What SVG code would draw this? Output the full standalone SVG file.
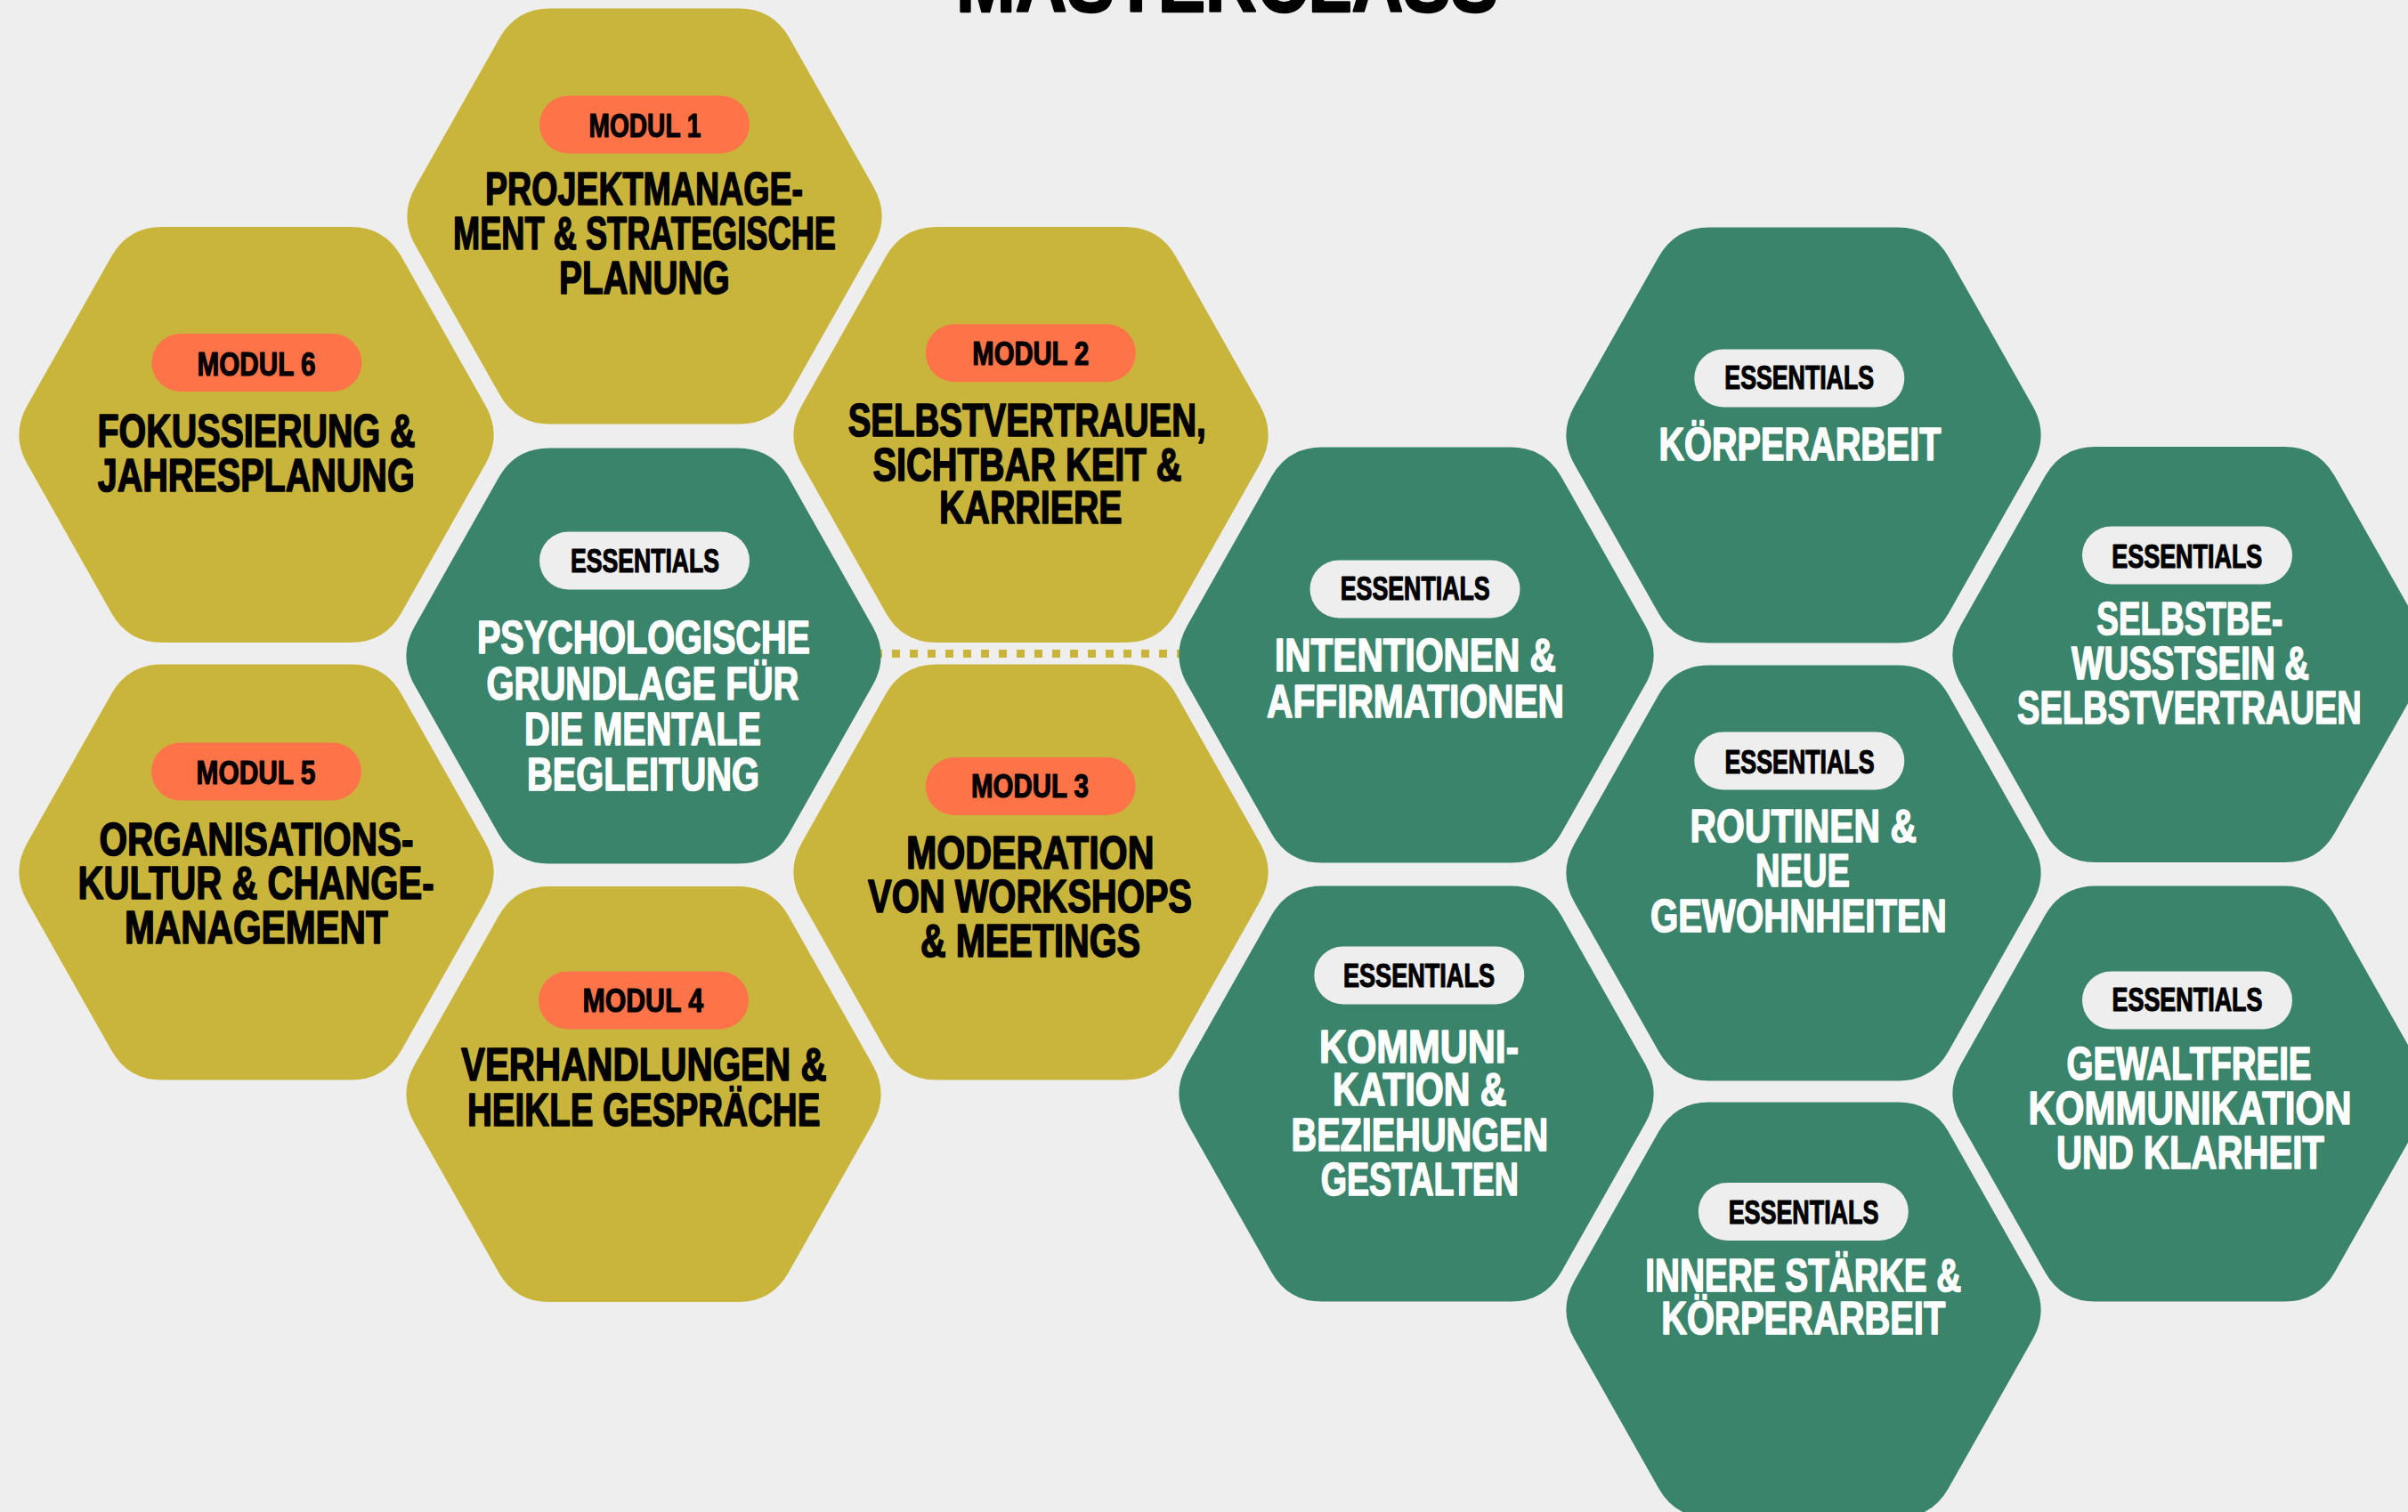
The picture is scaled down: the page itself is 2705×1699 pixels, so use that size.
<svg xmlns="http://www.w3.org/2000/svg" width="2705" height="1699" viewBox="0 0 2705 1699">
<defs>
<style>
.bg{fill:#EEEEEE}
.hy{fill:#C9B43C}
.hg{fill:#3A846C}
.po{fill:#FF7349}
.pw{fill:#EEEEEE}
text{font-family:'Liberation Sans Narrow','Liberation Sans',Arial,sans-serif;font-weight:700;text-anchor:middle;stroke-linejoin:round}
.k{fill:#000000;stroke:#000000}
.w{fill:#FFFFFF;stroke:#FFFFFF}
.ti{font-size:52px;stroke-width:1.6px}
.pl{font-size:37px;stroke-width:1.2px}
.big{font-size:95px;stroke-width:2.5px}
.dots{stroke:#C9B43C;stroke-width:9;stroke-dasharray:9 11;fill:none}
</style>
<path id="hex" d="M-106,-233.5 L106,-233.5 Q144,-233.5 162.7,-200.4 L257.3,-33.1 Q276,0 257.3,33.1 L162.7,200.4 Q144,233.5 106,233.5 L-106,233.5 Q-144,233.5 -162.7,200.4 L-257.3,33.1 Q-276,0 -257.3,-33.1 L-162.7,-200.4 Q-144,-233.5 -106,-233.5 Z"/>
</defs>
<rect class="bg" x="0" y="0" width="2705" height="1699"/>
<text class="k big" x="1378.5" y="12.7" textLength="609" lengthAdjust="spacingAndGlyphs">MASTERCLASS</text>

<g id="connectors">
<line class="dots" x1="982" y1="734.5" x2="1331" y2="734.5"/>
</g>

<g id="modul1">
<use href="#hex" class="hy" transform="translate(724,243)"/>
<rect class="po" x="606" y="107.5" width="236" height="65" rx="32.5"/>
<text class="k pl" x="724.5" y="154" textLength="126" lengthAdjust="spacingAndGlyphs">MODUL 1</text>
<text class="k ti" x="723.5" y="229.6" textLength="357" lengthAdjust="spacingAndGlyphs">PROJEKTMANAGE-</text>
<text class="k ti" x="724" y="279.8" textLength="430" lengthAdjust="spacingAndGlyphs">MENT &amp; STRATEGISCHE</text>
<text class="k ti" x="723.8" y="330" textLength="191.5" lengthAdjust="spacingAndGlyphs">PLANUNG</text>
</g>

<g id="modul6">
<use href="#hex" class="hy" transform="translate(288,488.5)"/>
<rect class="po" x="170.3" y="375" width="236" height="65" rx="32.5"/>
<text class="k pl" x="288" y="422" textLength="133" lengthAdjust="spacingAndGlyphs">MODUL 6</text>
<text class="k ti" x="288" y="502.2" textLength="357" lengthAdjust="spacingAndGlyphs">FOKUSSIERUNG &amp;</text>
<text class="k ti" x="287.7" y="552.4" textLength="356" lengthAdjust="spacingAndGlyphs">JAHRESPLANUNG</text>
</g>

<g id="modul2">
<use href="#hex" class="hy" transform="translate(1158,488.5)"/>
<rect class="po" x="1039.8" y="364.2" width="236" height="65" rx="32.5"/>
<text class="k pl" x="1157.8" y="410" textLength="131" lengthAdjust="spacingAndGlyphs">MODUL 2</text>
<text class="k ti" x="1153.7" y="490.3" textLength="402" lengthAdjust="spacingAndGlyphs">SELBSTVERTRAUEN,</text>
<text class="k ti" x="1154" y="539.5" textLength="347" lengthAdjust="spacingAndGlyphs">SICHTBAR KEIT &amp;</text>
<text class="k ti" x="1157.8" y="588.3" textLength="205.5" lengthAdjust="spacingAndGlyphs">KARRIERE</text>
</g>

<g id="essentials-psychologie">
<use href="#hex" class="hg" transform="translate(723,737)"/>
<rect class="pw" x="606" y="597.5" width="236" height="65" rx="32.5"/>
<text class="k pl" x="724.5" y="643.3" textLength="167" lengthAdjust="spacingAndGlyphs">ESSENTIALS</text>
<text class="w ti" x="722.9" y="734.2" textLength="374" lengthAdjust="spacingAndGlyphs">PSYCHOLOGISCHE</text>
<text class="w ti" x="721.9" y="785.7" textLength="351" lengthAdjust="spacingAndGlyphs">GRUNDLAGE FÜR</text>
<text class="w ti" x="722" y="836.7" textLength="266" lengthAdjust="spacingAndGlyphs">DIE MENTALE</text>
<text class="w ti" x="722.4" y="887.8" textLength="261" lengthAdjust="spacingAndGlyphs">BEGLEITUNG</text>
</g>

<g id="modul5">
<use href="#hex" class="hy" transform="translate(288,980)"/>
<rect class="po" x="170" y="834.5" width="236" height="65" rx="32.5"/>
<text class="k pl" x="287.5" y="881" textLength="134" lengthAdjust="spacingAndGlyphs">MODUL 5</text>
<text class="k ti" x="288" y="961.2" textLength="353" lengthAdjust="spacingAndGlyphs">ORGANISATIONS-</text>
<text class="k ti" x="287.5" y="1009.7" textLength="400" lengthAdjust="spacingAndGlyphs">KULTUR &amp; CHANGE-</text>
<text class="k ti" x="287.9" y="1059.7" textLength="295.7" lengthAdjust="spacingAndGlyphs">MANAGEMENT</text>
</g>

<g id="modul3">
<use href="#hex" class="hy" transform="translate(1158,980)"/>
<rect class="po" x="1039.7" y="851" width="236" height="65" rx="32.5"/>
<text class="k pl" x="1157" y="896.4" textLength="132" lengthAdjust="spacingAndGlyphs">MODUL 3</text>
<text class="k ti" x="1157.2" y="975.5" textLength="278.4" lengthAdjust="spacingAndGlyphs">MODERATION</text>
<text class="k ti" x="1157" y="1025" textLength="364" lengthAdjust="spacingAndGlyphs">VON WORKSHOPS</text>
<text class="k ti" x="1157.5" y="1075" textLength="247" lengthAdjust="spacingAndGlyphs">&amp; MEETINGS</text>
</g>

<g id="modul4">
<use href="#hex" class="hy" transform="translate(723,1229.5)"/>
<rect class="po" x="605" y="1091.5" width="236" height="65" rx="32.5"/>
<text class="k pl" x="722.3" y="1137" textLength="135.5" lengthAdjust="spacingAndGlyphs">MODUL 4</text>
<text class="k ti" x="723.3" y="1214.3" textLength="410.6" lengthAdjust="spacingAndGlyphs">VERHANDLUNGEN &amp;</text>
<text class="k ti" x="723.2" y="1265.3" textLength="396.4" lengthAdjust="spacingAndGlyphs">HEIKLE GESPRÄCHE</text>
</g>

<g id="essentials-intentionen">
<use href="#hex" class="hg" transform="translate(1591,736)"/>
<rect class="pw" x="1471.5" y="629.5" width="236" height="65" rx="32.5"/>
<text class="k pl" x="1589.7" y="674.4" textLength="168" lengthAdjust="spacingAndGlyphs">ESSENTIALS</text>
<text class="w ti" x="1589.9" y="754" textLength="316" lengthAdjust="spacingAndGlyphs">INTENTIONEN &amp;</text>
<text class="w ti" x="1590" y="805.6" textLength="334" lengthAdjust="spacingAndGlyphs">AFFIRMATIONEN</text>
</g>

<g id="essentials-koerperarbeit">
<use href="#hex" class="hg" transform="translate(2026,489)"/>
<rect class="pw" x="1903.3" y="392.5" width="236" height="65" rx="32.5"/>
<text class="k pl" x="2021.2" y="437" textLength="167.7" lengthAdjust="spacingAndGlyphs">ESSENTIALS</text>
<text class="w ti" x="2022" y="517" textLength="317" lengthAdjust="spacingAndGlyphs">KÖRPERARBEIT</text>
</g>

<g id="essentials-selbstbewusstsein">
<use href="#hex" class="hg" transform="translate(2460,735.5)"/>
<rect class="pw" x="2339" y="591.5" width="236" height="65" rx="32.5"/>
<text class="k pl" x="2456.8" y="637.5" textLength="169" lengthAdjust="spacingAndGlyphs">ESSENTIALS</text>
<text class="w ti" x="2459.8" y="712.9" textLength="209" lengthAdjust="spacingAndGlyphs">SELBSTBE-</text>
<text class="w ti" x="2460.6" y="763.2" textLength="267" lengthAdjust="spacingAndGlyphs">WUSSTSEIN &amp;</text>
<text class="w ti" x="2459.4" y="812.7" textLength="386.7" lengthAdjust="spacingAndGlyphs">SELBSTVERTRAUEN</text>
</g>

<g id="essentials-routinen">
<use href="#hex" class="hg" transform="translate(2026,981)"/>
<rect class="pw" x="1903.3" y="822.5" width="236" height="65" rx="32.5"/>
<text class="k pl" x="2021.5" y="868.8" textLength="168" lengthAdjust="spacingAndGlyphs">ESSENTIALS</text>
<text class="w ti" x="2025.8" y="946.3" textLength="254.4" lengthAdjust="spacingAndGlyphs">ROUTINEN &amp;</text>
<text class="w ti" x="2025" y="996.2" textLength="105.8" lengthAdjust="spacingAndGlyphs">NEUE</text>
<text class="w ti" x="2020.4" y="1046.7" textLength="333" lengthAdjust="spacingAndGlyphs">GEWOHNHEITEN</text>
</g>

<g id="essentials-kommunikation">
<use href="#hex" class="hg" transform="translate(1591,1229)"/>
<rect class="pw" x="1476.3" y="1063.5" width="236" height="65" rx="32.5"/>
<text class="k pl" x="1594" y="1109" textLength="170" lengthAdjust="spacingAndGlyphs">ESSENTIALS</text>
<text class="w ti" x="1594" y="1193.6" textLength="224" lengthAdjust="spacingAndGlyphs">KOMMUNI-</text>
<text class="w ti" x="1594.8" y="1242.3" textLength="195.5" lengthAdjust="spacingAndGlyphs">KATION &amp;</text>
<text class="w ti" x="1594.8" y="1293" textLength="288.5" lengthAdjust="spacingAndGlyphs">BEZIEHUNGEN</text>
<text class="w ti" x="1594.9" y="1342.6" textLength="222.3" lengthAdjust="spacingAndGlyphs">GESTALTEN</text>
</g>

<g id="essentials-gewaltfrei">
<use href="#hex" class="hg" transform="translate(2460,1229)"/>
<rect class="pw" x="2339" y="1091.5" width="236" height="65" rx="32.5"/>
<text class="k pl" x="2457" y="1136.3" textLength="169" lengthAdjust="spacingAndGlyphs">ESSENTIALS</text>
<text class="w ti" x="2459" y="1212.7" textLength="275" lengthAdjust="spacingAndGlyphs">GEWALTFREIE</text>
<text class="w ti" x="2460" y="1262.9" textLength="363" lengthAdjust="spacingAndGlyphs">KOMMUNIKATION</text>
<text class="w ti" x="2460.4" y="1313" textLength="301" lengthAdjust="spacingAndGlyphs">UND KLARHEIT</text>
</g>

<g id="essentials-innere-staerke">
<use href="#hex" class="hg" transform="translate(2026,1472)"/>
<rect class="pw" x="1907.8" y="1329" width="236" height="65" rx="32.5"/>
<text class="k pl" x="2026" y="1374.5" textLength="168.7" lengthAdjust="spacingAndGlyphs">ESSENTIALS</text>
<text class="w ti" x="2025.8" y="1450.6" textLength="355" lengthAdjust="spacingAndGlyphs">INNERE STÄRKE &amp;</text>
<text class="w ti" x="2025.8" y="1499.3" textLength="319" lengthAdjust="spacingAndGlyphs">KÖRPERARBEIT</text>
</g>
</svg>
